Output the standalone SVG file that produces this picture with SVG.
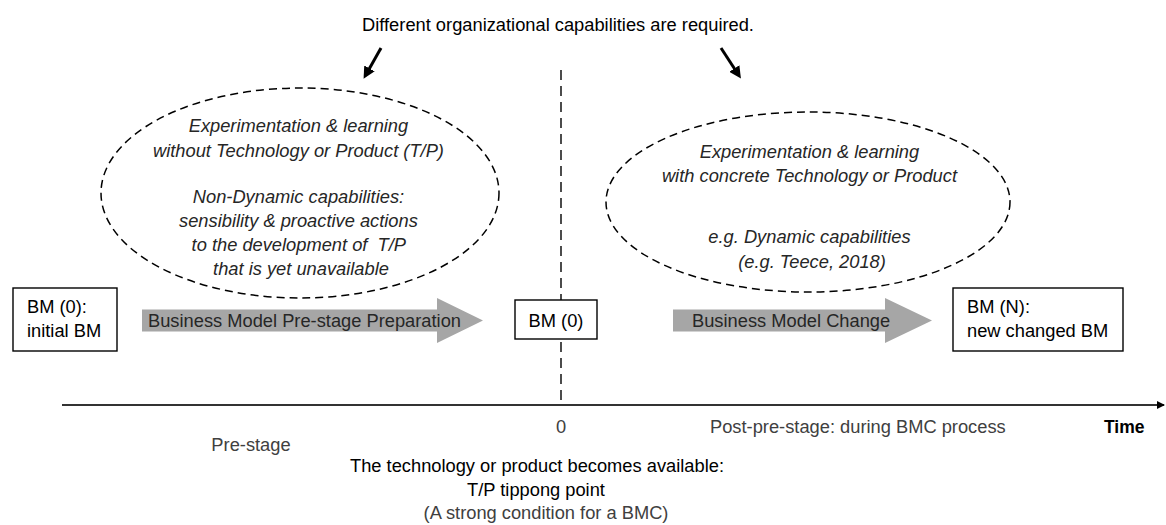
<svg xmlns="http://www.w3.org/2000/svg" width="1166" height="525" viewBox="0 0 1166 525">
<defs>
<style>
text{font-family:"Liberation Sans",Arial,sans-serif;font-size:18.3px}
.k{fill:#000}
.g{fill:#404040}
.it{font-style:italic;fill:#262626}
.box{fill:#fff;stroke:#000;stroke-width:1.4}
.ell{fill:none;stroke:#000;stroke-width:1.5;stroke-dasharray:8 5}
.blk{fill:#a6a6a6}
.ptr{stroke:#000;stroke-width:3;fill:none}
</style>
<marker id="ah" markerWidth="12" markerHeight="12" refX="3" refY="6" orient="auto" markerUnits="userSpaceOnUse" viewBox="0 0 12 12"><path d="M0,0 L12,6 L0,12 z" fill="#000"/></marker>
<marker id="axh" markerWidth="8" markerHeight="8" refX="7" refY="4" orient="auto" markerUnits="userSpaceOnUse" viewBox="0 0 8 8"><path d="M0,0 L8,4 L0,8 z" fill="#000"/></marker>
</defs>
<rect width="1166" height="525" fill="#fff"/>

<g id="title">
<text class="k" x="558" y="31" text-anchor="middle">Different organizational capabilities are required.</text>
</g>

<g id="connectors">
<line class="ptr" x1="381" y1="48" x2="368" y2="71" marker-end="url(#ah)"/>
<line class="ptr" x1="721" y1="48" x2="736" y2="71" marker-end="url(#ah)"/>
<line x1="561" y1="70" x2="561" y2="405" stroke="#000" stroke-width="1.4" stroke-dasharray="10 6"/>
<line x1="62" y1="405" x2="1164" y2="405" stroke="#333" stroke-width="2" marker-end="url(#axh)"/>
</g>

<g id="ellipse-left">
<ellipse class="ell" cx="300" cy="193" rx="199" ry="105"/>
<text class="it" text-anchor="middle">
<tspan x="301" y="132">Experimentation &amp; learning</tspan>
<tspan x="301" y="157">without Technology or Product (T/P)</tspan>
<tspan x="301" y="203">Non-Dynamic capabilities:</tspan>
<tspan x="301" y="227">sensibility &amp; proactive actions</tspan>
<tspan x="301" y="251">to the development of&#160; T/P</tspan>
<tspan x="301" y="275">that is yet unavailable</tspan>
</text>
</g>

<g id="ellipse-right">
<ellipse class="ell" cx="808" cy="202" rx="202" ry="90"/>
<text class="it" text-anchor="middle">
<tspan x="812" y="158">Experimentation &amp; learning</tspan>
<tspan x="812" y="182">with concrete Technology or Product</tspan>
<tspan x="812" y="243">e.g. Dynamic capabilities</tspan>
<tspan x="812" y="268">(e.g. Teece, 2018)</tspan>
</text>
</g>

<g id="bm0-initial">
<rect class="box" x="13" y="288" width="104" height="63"/>
<text class="k"><tspan x="27" y="313">BM (0):</tspan><tspan x="27" y="337">initial BM</tspan></text>
</g>

<g id="arrow-prestage">
<path class="blk" d="M142,309.5 H437 V298 L483,320.5 L437,343 V331.5 H142 Z"/>
<text x="148" y="327" fill="#262626">Business Model Pre-stage Preparation</text>
</g>

<g id="bm0">
<rect class="box" x="515" y="300" width="82" height="39"/>
<text class="k" x="556" y="326.5" text-anchor="middle">BM (0)</text>
</g>

<g id="arrow-change">
<path class="blk" d="M673,309.5 H885 V298 L932,320.5 L885,343 V331.5 H673 Z"/>
<text x="692" y="327" fill="#262626">Business Model Change</text>
</g>

<g id="bmN">
<rect class="box" x="953" y="288" width="170" height="63"/>
<text class="k"><tspan x="967" y="313">BM (N):</tspan><tspan x="967" y="337">new changed BM</tspan></text>
</g>

<g id="axis-labels">
<text class="g" x="561" y="433" text-anchor="middle">0</text>
<text class="g" x="251" y="451" text-anchor="middle">Pre-stage</text>
<text class="g" x="710" y="433">Post-pre-stage: during BMC process</text>
<text class="k" x="1104" y="433" font-weight="bold" style="font-size:17.5px">Time</text>
<text class="k" x="537" y="472" text-anchor="middle">The technology or product becomes available:</text>
<text class="k" x="536" y="496" text-anchor="middle">T/P tippong point</text>
<text class="g" x="546" y="519" text-anchor="middle">(A strong condition for a BMC)</text>
</g>
</svg>
